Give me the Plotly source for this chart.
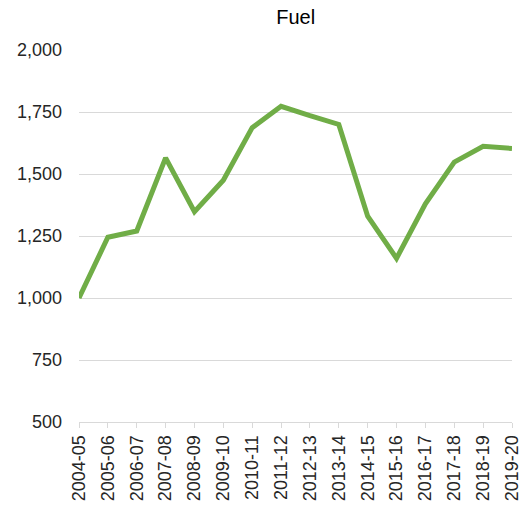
import plotly.graph_objects as go

years = ["2004-05", "2005-06", "2006-07", "2007-08", "2008-09", "2009-10", "2010-11",
         "2011-12", "2012-13", "2013-14", "2014-15", "2015-16", "2016-17", "2017-18",
         "2018-19", "2019-20"]
fuel = [1000, 1245, 1270, 1565, 1348, 1475, 1687, 1773, 1735, 1700, 1330, 1160,
        1380, 1548, 1612, 1603]
y_ticks = [500, 750, 1000, 1250, 1500, 1750, 2000]

fig = go.Figure(go.Scatter(
    x=list(range(len(years))), y=fuel, mode="lines",
    line=dict(color="#70AD47", width=5), cliponaxis=False,
))
fig.update_layout(
    width=528, height=508,
    margin=dict(l=79, r=16, t=50, b=86, autoexpand=False),
    paper_bgcolor="white", plot_bgcolor="white",
    font=dict(family="Liberation Sans, Arial, sans-serif", size=18, color="#262626"),
    title=dict(text="Fuel", x=0.56, xanchor="center", y=0.966, yanchor="middle",
               font=dict(size=20, color="#000000")),
    showlegend=False,
)
fig.update_xaxes(
    tickmode="array", tickvals=list(range(len(years))), ticktext=years,
    range=[0, len(years) - 1], tickangle=-90, automargin=False,
    showgrid=False, showline=True, linecolor="#d9d9d9", linewidth=1,
    ticks="outside", ticklen=5, tickcolor="#d9d9d9", zeroline=False,
)
fig.update_yaxes(
    range=[500, 2000], tickvals=y_ticks, tickformat=",", automargin=False,
    showgrid=True, gridcolor="#d9d9d9", gridwidth=1, zeroline=False,
    ticks="", ticklabelstandoff=16,
)
fig.write_html("out.html", config={"displayModeBar": False},
               post_script="document.body.style.margin='0';")
